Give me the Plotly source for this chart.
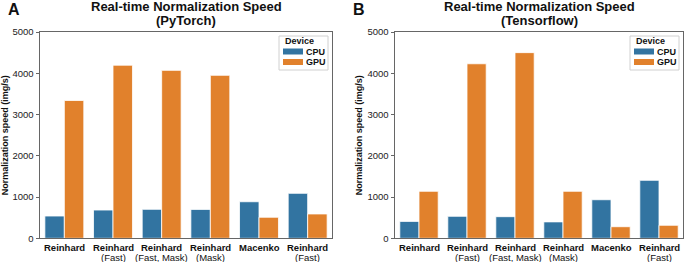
import plotly.graph_objects as go

categories = ["Reinhard", "Reinhard\n(Fast)", "Reinhard\n(Fast, Mask)",
              "Reinhard\n(Mask)", "Macenko", "Reinhard\n(Fast)"]
pytorch_cpu = [540, 685, 702, 700, 886, 1090]
pytorch_gpu = [3340, 4195, 4070, 3950, 510, 590]
tf_cpu = [410, 533, 524, 398, 935, 1405]
tf_gpu = [1139, 4230, 4500, 1139, 281, 315]
yticks = [0, 1000, 2000, 3000, 4000, 5000]
devices = ["CPU", "GPU"]

CPU_C = "#3274A1"
GPU_C = "#E1812C"
COLORS = [CPU_C, GPU_C]
FONT = "Liberation Sans, Arial, sans-serif"

W, H = 685, 262
xpos = list(range(len(categories)))

fig = go.Figure()

panels = [
    dict(cpu=pytorch_cpu, gpu=pytorch_gpu, xa="x", ya="y",
         dom=[40 / W, 332 / W], title=["Real-time Normalization Speed", "(PyTorch)"], letter="A",
         letter_x=6 / W, ytitle_x=5 / W),
    dict(cpu=tf_cpu, gpu=tf_gpu, xa="x2", ya="y2",
         dom=[395 / W, 683 / W], title=["Real-time Normalization Speed", "(Tensorflow)"], letter="B",
         letter_x=351 / W, ytitle_x=359 / W),
]

ydom = [(H - 238.3) / H, (H - 32) / H]

for p in panels:
    for name, vals, col in [("CPU", p["cpu"], CPU_C), ("GPU", p["gpu"], GPU_C)]:
        fig.add_trace(go.Bar(
            x=xpos, y=vals, name=name, xaxis=p["xa"], yaxis=p["ya"], showlegend=False,
            marker=dict(color=col, line=dict(color="white", width=0.8)),
        ))

axis_common = dict(showline=True, mirror=True, linecolor="#666666", linewidth=1,
                   ticks="outside", ticklen=3.5, tickcolor="#666666", showgrid=False,
                   zeroline=False, automargin=False,
                   tickfont=dict(family=FONT, size=9.5, color="#222"))

layout = dict(
    width=W, height=H, margin=dict(l=0, r=0, t=0, b=0),
    plot_bgcolor="white", paper_bgcolor="white",
    barmode="group", bargap=0.2, bargroupgap=0,
    font=dict(family=FONT, color="#222"),
    annotations=[], shapes=[],
)


def px(xp):
    return xp / W


def py(yp):
    return 1 - yp / H


for i, p in enumerate(panels):
    sfx = "" if i == 0 else "2"
    layout["xaxis" + sfx] = dict(axis_common, domain=p["dom"], range=[-0.5, 5.5],
                                 tickvals=xpos, showticklabels=False, anchor="y" + sfx, ticks="")
    layout["yaxis" + sfx] = dict(axis_common, domain=ydom, range=[0, 5000], tickvals=yticks,
                                 anchor="x" + sfx)
    # category labels (two lines: bold method name, normal variant)
    for xv, cat in zip(xpos, categories):
        parts = cat.split("\n")
        layout["annotations"].append(dict(
            text="<b>" + parts[0] + "</b>", x=xv, xref=p["xa"], y=py(247.5), yref="paper",
            xanchor="center", yanchor="middle", showarrow=False,
            font=dict(family=FONT, size=9.5, color="#111")))
        if len(parts) > 1:
            layout["annotations"].append(dict(
                text=parts[1], x=xv, xref=p["xa"], y=py(257), yref="paper",
                xanchor="center", yanchor="middle", showarrow=False,
                font=dict(family=FONT, size=9.5, color="#111")))
    cx = (p["dom"][0] + p["dom"][1]) / 2
    layout["annotations"] += [
        dict(text="<b>" + p["title"][0] + "</b>", x=cx, y=py(6.5),
             xref="paper", yref="paper", xanchor="center", yanchor="middle", showarrow=False,
             font=dict(family=FONT, size=13, color="#111")),
        dict(text="<b>" + p["title"][1] + "</b>", x=cx, y=py(20),
             xref="paper", yref="paper", xanchor="center", yanchor="middle", showarrow=False,
             font=dict(family=FONT, size=13, color="#111")),
        dict(text="<b>" + p["letter"] + "</b>", x=p["letter_x"], y=py(9.5),
             xref="paper", yref="paper", xanchor="left", yanchor="middle", showarrow=False,
             font=dict(family=FONT, size=16, color="#111")),
        dict(text="<b>Normalization speed (img/s)</b>", x=p["ytitle_x"], y=(ydom[0] + ydom[1]) / 2,
             xref="paper", yref="paper", xanchor="center", yanchor="middle", showarrow=False,
             textangle=-90, font=dict(family=FONT, size=9, color="#111")),
    ]
    # legend box
    right = p["dom"][1] * W - 4
    left = right - 49
    layout["shapes"].append(dict(type="rect", xref="paper", yref="paper",
                                 x0=px(left), x1=px(right), y0=py(70), y1=py(36),
                                 fillcolor="white", line=dict(color="#d0d0d0", width=1), layer="above"))
    layout["annotations"].append(dict(text="<b>Device</b>", x=px(left + 4), y=py(40.5),
                                      xref="paper", yref="paper", xanchor="left", yanchor="middle",
                                      showarrow=False, font=dict(family=FONT, size=9, color="#111")))
    for j, (dev, col) in enumerate(zip(devices, COLORS)):
        yc = 51.5 + j * 10.5
        layout["shapes"].append(dict(type="rect", xref="paper", yref="paper",
                                     x0=px(left + 4), x1=px(left + 24), y0=py(yc + 3), y1=py(yc - 3),
                                     fillcolor=col, line=dict(width=0), layer="above"))
        layout["annotations"].append(dict(text="<b>" + dev + "</b>", x=px(left + 25), y=py(yc),
                                          xref="paper", yref="paper", xanchor="left", yanchor="middle",
                                          showarrow=False, font=dict(family=FONT, size=9, color="#111")))

fig.update_layout(**layout)
fig.write_html("out.html", config={"displayModeBar": False},
               post_script="document.body.style.margin='0';document.body.style.overflow='hidden';")
